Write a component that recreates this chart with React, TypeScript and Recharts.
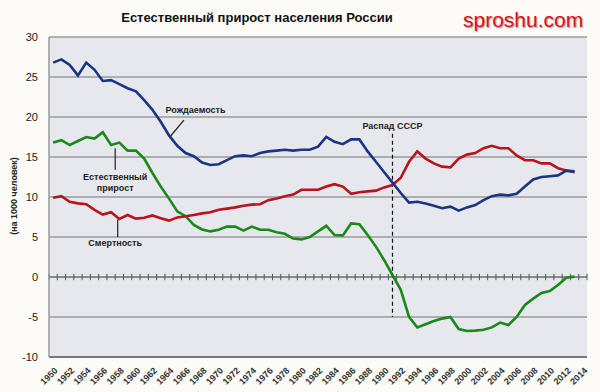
import React from 'react';
import {
  CartesianGrid,
  Line,
  LineChart,
  ReferenceDot,
  ReferenceLine,
  XAxis,
  YAxis,
} from 'recharts';

// 1950 .. 2013
const years = [
  1950, 1951, 1952, 1953, 1954, 1955, 1956, 1957, 1958, 1959,
  1960, 1961, 1962, 1963, 1964, 1965, 1966, 1967, 1968, 1969,
  1970, 1971, 1972, 1973, 1974, 1975, 1976, 1977, 1978, 1979,
  1980, 1981, 1982, 1983, 1984, 1985, 1986, 1987, 1988, 1989,
  1990, 1991, 1992, 1993, 1994, 1995, 1996, 1997, 1998, 1999,
  2000, 2001, 2002, 2003, 2004, 2005, 2006, 2007, 2008, 2009,
  2010, 2011, 2012, 2013,
];

const births = [
  26.8, 27.2, 26.5, 25.2, 26.8, 25.9, 24.5, 24.6, 24.1, 23.6,
  23.2, 22.1, 20.9, 19.4, 17.7, 16.4, 15.5, 15.1, 14.3, 14.0,
  14.1, 14.6, 15.1, 15.2, 15.1, 15.5, 15.7, 15.8, 15.9, 15.8,
  15.9, 15.9, 16.3, 17.5, 16.9, 16.6, 17.2, 17.2, 15.7, 14.4,
  13.1, 11.8, 10.5, 9.3, 9.4, 9.2, 8.9, 8.6, 8.8, 8.3,
  8.7, 9.0, 9.6, 10.1, 10.3, 10.2, 10.4, 11.3, 12.2, 12.5,
  12.6, 12.7, 13.3, 13.2,
];

const deaths = [
  9.9, 10.1, 9.4, 9.2, 9.1, 8.4, 7.8, 8.1, 7.25, 7.75,
  7.3, 7.4, 7.7, 7.35, 7.05, 7.45, 7.6, 7.75, 7.95, 8.1,
  8.4, 8.55, 8.7, 8.9, 9.05, 9.1, 9.6, 9.8, 10.1, 10.3,
  10.9, 10.9, 10.9, 11.3, 11.6, 11.3, 10.4, 10.6, 10.7, 10.8,
  11.2, 11.5, 12.4, 14.4, 15.7, 14.8, 14.2, 13.8, 13.7, 14.8,
  15.3, 15.5, 16.1, 16.4, 16.1, 16.1, 15.2, 14.6, 14.6, 14.2,
  14.2, 13.6, 13.3, 13.1,
];

const natural = [
  16.8, 17.1, 16.5, 17.0, 17.5, 17.3, 18.1, 16.5, 16.8, 15.8,
  15.8, 14.8, 13.0, 11.3, 9.8, 8.2, 7.6, 6.5, 5.95, 5.7,
  5.9, 6.3, 6.3, 5.8, 6.3, 5.9, 5.9, 5.6, 5.4, 4.8,
  4.7, 5.0, 5.7, 6.4, 5.25, 5.2, 6.7, 6.6, 5.25, 3.8,
  2.1, 0.25, -1.6, -5.0, -6.3, -5.9, -5.5, -5.2, -5.0, -6.5,
  -6.75, -6.7, -6.6, -6.3, -5.7, -6.0, -5.0, -3.5, -2.7, -2.0,
  -1.75, -1.0, -0.1, 0.05,
];

const yearTicks = [
  1950, 1952, 1954, 1956, 1958, 1960, 1962, 1964, 1966, 1968,
  1970, 1972, 1974, 1976, 1978, 1980, 1982, 1984, 1986, 1988,
  1990, 1992, 1994, 1996, 1998, 2000, 2002, 2004, 2006, 2008,
  2010, 2012, 2014,
];
const valueTicks = [-10, -5, 0, 5, 10, 15, 20, 25, 30];

const data = years.map((year, i) => ({
  year,
  births: births[i],
  deaths: deaths[i],
  natural: natural[i],
}));

// small cross ticks on the zero line, between years
const zeroTicks = Array.from({ length: 66 }, (_, i) => 1949.5 + i);

const FONT = '"Liberation Sans", Arial, sans-serif';

const YearTick = ({ x, y, payload }: any) => (
  <text
    x={x + 3}
    y={y + 4}
    transform={`rotate(-45 ${x + 3} ${y + 4})`}
    textAnchor="end"
    dominantBaseline="central"
    fontSize={9}
    fontWeight="bold"
    fontFamily={FONT}
    fill="#333"
  >
    {payload.value}
  </text>
);

const note = (value: string) => ({
  value,
  position: 'center' as const,
  fill: '#222',
  fontSize: 9,
  fontWeight: 'bold',
  fontFamily: FONT,
});

export default function App() {
  return (
    <div
      style={{
        position: 'fixed',
        left: 0,
        top: 0,
        width: 600,
        height: 392,
        background: '#fcfbf7',
        fontFamily: FONT,
      }}
    >
      <div
        style={{
          position: 'absolute',
          left: 0,
          top: 10,
          width: 514,
          textAlign: 'center',
          fontSize: 13,
          fontWeight: 'bold',
          color: '#111',
        }}
      >
        Естественный прирост населения России
      </div>
      <div
        style={{
          position: 'absolute',
          left: 463,
          top: 8,
          fontSize: 21,
          color: '#e0101c',
          textShadow: '1px 1px 1px #999',
        }}
      >
        sproshu.com
      </div>
      <div
        style={{
          position: 'absolute',
          left: 0,
          top: 196,
          width: 0,
          height: 0,
        }}
      >
        <div
          style={{
            position: 'absolute',
            left: 14,
            top: 0,
            transform: 'translate(-50%, -50%) rotate(-90deg)',
            whiteSpace: 'nowrap',
            fontSize: 9,
            fontWeight: 'bold',
            color: '#222',
          }}
        >
          (на 1000 человек)
        </div>
      </div>
      <LineChart
        width={600}
        height={392}
        data={data}
        margin={{ top: 37, right: 13, left: 0, bottom: 0 }}
        style={{ position: 'absolute', left: 0, top: 0 }}
      >
        <CartesianGrid
          vertical={false}
          stroke="#9a9a9a"
          strokeWidth={1.5}
          fill="#e7e7ee"
          fillOpacity={1}
        />
        <XAxis
          dataKey="year"
          type="number"
          domain={[1949.5, 2014.5]}
          ticks={yearTicks}
          interval={0}
          tick={<YearTick />}
          tickLine={false}
          axisLine={{ stroke: '#666', strokeWidth: 1.5 }}
          height={35}
        />
        <YAxis
          domain={[-10, 30]}
          ticks={valueTicks}
          width={49}
          tickLine={false}
          tickMargin={5}
          axisLine={{ stroke: '#999', strokeWidth: 1.5 }}
          tick={{ fontSize: 11, fill: '#222', fontFamily: FONT }}
        />
        <ReferenceLine y={0} stroke="#666" strokeWidth={1} />
        {zeroTicks.map((t) => (
          <ReferenceLine
            key={t}
            segment={[
              { x: t, y: -0.4 },
              { x: t, y: 0.4 },
            ]}
            stroke="#555"
            strokeWidth={1}
          />
        ))}
        <ReferenceLine
          segment={[
            { x: 1991, y: 17.9 },
            { x: 1991, y: -5 },
          ]}
          stroke="#111"
          strokeWidth={1.2}
          strokeDasharray="4 3"
        />
        <ReferenceLine
          segment={[
            { x: 1965.8, y: 19.6 },
            { x: 1964.1, y: 17.5 },
          ]}
          stroke="#222"
          strokeWidth={1.2}
        />
        <ReferenceLine
          segment={[
            { x: 1957.5, y: 16.1 },
            { x: 1957.5, y: 13.4 },
          ]}
          stroke="#222"
          strokeWidth={1.2}
        />
        <ReferenceLine
          segment={[
            { x: 1957.8, y: 7.2 },
            { x: 1957.8, y: 5.0 },
          ]}
          stroke="#222"
          strokeWidth={1.2}
        />
        <Line
          dataKey="natural"
          stroke="#178a17"
          strokeWidth={2.6}
          dot={false}
          isAnimationActive={false}
        />
        <Line
          dataKey="deaths"
          stroke="#b8141e"
          strokeWidth={2.6}
          dot={false}
          isAnimationActive={false}
        />
        <Line
          dataKey="births"
          stroke="#1a3582"
          strokeWidth={2.6}
          dot={false}
          isAnimationActive={false}
        />
        <ReferenceDot x={1967.2} y={20.9} r={0} stroke="none" label={note('Рождаемость')} />
        <ReferenceDot x={1957.5} y={12.5} r={0} stroke="none" label={note('Естественный')} />
        <ReferenceDot x={1957.5} y={11.1} r={0} stroke="none" label={note('прирост')} />
        <ReferenceDot x={1957.5} y={4.3} r={0} stroke="none" label={note('Смертность')} />
        <ReferenceDot x={1991} y={18.9} r={0} stroke="none" label={note('Распад СССР')} />
      </LineChart>
    </div>
  );
}
